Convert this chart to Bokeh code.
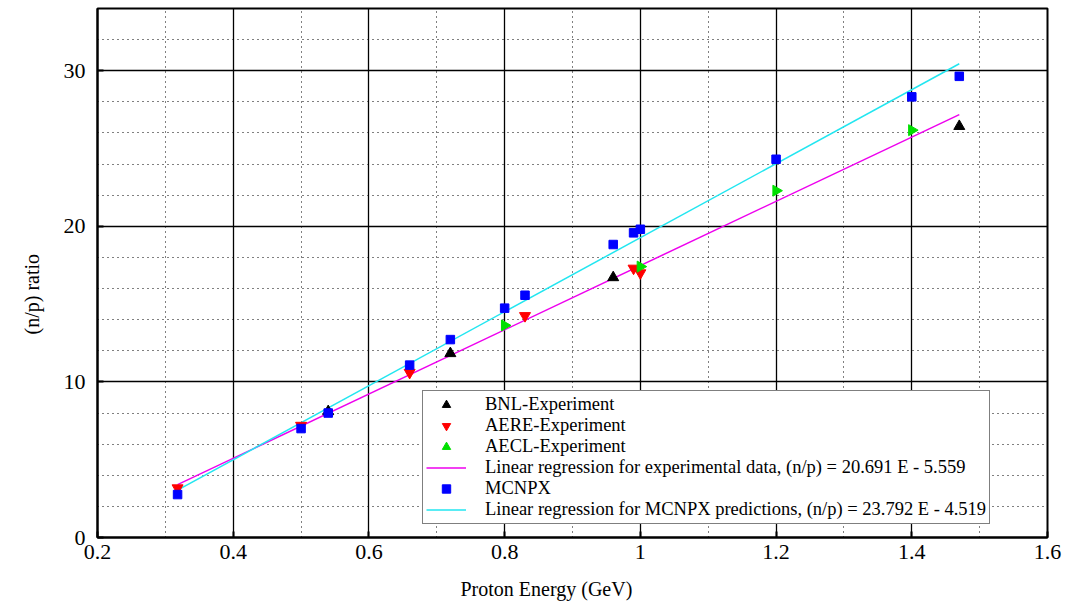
import numpy as np
from bokeh.plotting import figure
from bokeh.models import (FixedTicker, Legend, LegendItem, Range1d, ColumnDataSource, Title)
from bokeh.embed import file_html
from bokeh.resources import INLINE

# ---- data ----
bnl_E = [0.54, 0.72, 0.96, 1.47]
bnl_ratio = [8.1, 11.83, 16.71, 26.43]

aere_E = [0.318, 0.50, 0.66, 0.83, 0.99, 1.00]
aere_ratio = [3.18, 7.2, 10.6, 14.25, 17.3, 17.0]

aecl_E = [0.80, 1.00, 1.20, 1.40]
aecl_ratio = [13.63, 17.41, 22.29, 26.18]

mcnpx_E = [0.318, 0.50, 0.54, 0.66, 0.72, 0.80, 0.83, 0.96, 0.99, 1.00, 1.20, 1.40, 1.47]
mcnpx_ratio = [2.76, 7.0, 8.0, 11.08, 12.72, 14.74, 15.57, 18.83, 19.58, 19.81, 24.31, 28.32, 29.64]

fit_E = [0.318, 1.47]
fit_exp = [3.40, 27.18]
fit_mcnpx = [3.05, 30.45]

x_major = [0.2, 0.4, 0.6, 0.8, 1.0, 1.2, 1.4, 1.6]
x_minor = [0.3, 0.5, 0.7, 0.9, 1.1, 1.3, 1.5]
x_labels = {0.2: "0.2", 0.4: "0.4", 0.6: "0.6", 0.8: "0.8", 1.0: "1",
            1.2: "1.2", 1.4: "1.4", 1.6: "1.6"}
y_major = [0, 10, 20, 30]
y_minor = [2, 4, 6, 8, 12, 14, 16, 18, 22, 24, 26, 28, 32]

FONT = "Liberation Serif"

p = figure(width=1069, height=614, output_backend="svg", toolbar_location=None,
           x_range=Range1d(0.2, 1.6), y_range=Range1d(0, 34),
           min_border_left=97, min_border_right=22, min_border_top=8,
           min_border_bottom=73)
p.background_fill_color = "white"
p.border_fill_color = "white"
p.outline_line_color = "black"
p.outline_line_width = 2

p.xaxis.ticker = FixedTicker(ticks=x_major, minor_ticks=x_minor)
p.yaxis.ticker = FixedTicker(ticks=y_major, minor_ticks=y_minor)
p.xaxis.major_label_overrides = x_labels

for ax in (p.xaxis[0], p.yaxis[0]):
    ax.axis_line_color = "black"
    ax.axis_line_width = 2
    ax.major_tick_in = 6
    ax.major_tick_out = 0
    ax.major_tick_line_color = "black"
    ax.major_tick_line_width = 2
    ax.minor_tick_line_color = None
    ax.major_label_text_font = FONT
    ax.major_label_text_font_size = "22px"
    ax.major_label_text_color = "black"

p.xaxis.major_label_standoff = 3
p.yaxis.major_label_standoff = 8

# axis titles, placed off the frame centre as in the original
p.add_layout(Title(text="Proton Energy (GeV)", align="left", offset=363,
                   text_font=FONT, text_font_size="20px", text_font_style="normal",
                   text_color="black", standoff=29), "below")
p.add_layout(Title(text="(n/p) ratio", align="left", offset=203,
                   text_font=FONT, text_font_size="20px", text_font_style="normal",
                   text_color="black", standoff=35), "left")

for g in (p.xgrid[0], p.ygrid[0]):
    g.grid_line_color = "black"
    g.grid_line_width = 1.3
    g.minor_grid_line_color = "black"
    g.minor_grid_line_width = 1
    g.minor_grid_line_dash = "1 4"

r_fit_exp = p.line(fit_E, fit_exp, line_color="#ee00ee", line_width=1.5)
r_fit_mc = p.line(fit_E, fit_mcnpx, line_color="#22e6f0", line_width=1.5)

r_bnl = p.scatter(bnl_E, bnl_ratio, marker="triangle", size=11,
                  fill_color="black", line_color="black")
r_aere = p.scatter(aere_E, aere_ratio, marker="inverted_triangle", size=11,
                   fill_color="#ff0000", line_color="#ff0000")
aecl_src = ColumnDataSource(dict(x=aecl_E, y=aecl_ratio,
                                 ang=[-np.pi / 2] * len(aecl_E)))
r_aecl = p.scatter("x", "y", source=aecl_src, marker="triangle", angle="ang",
                   angle_units="rad", size=11,
                   fill_color="#00e000", line_color="#00e000")
r_mc = p.scatter(mcnpx_E, mcnpx_ratio, marker="square", size=8.5,
                 fill_color="#0000ff", line_color="#0000ff")

legend = Legend(items=[
    LegendItem(label="BNL-Experiment", renderers=[r_bnl]),
    LegendItem(label="AERE-Experiment", renderers=[r_aere]),
    LegendItem(label="AECL-Experiment", renderers=[r_aecl]),
    LegendItem(label="Linear regression for experimental data, (n/p) = 20.691 E - 5.559",
               renderers=[r_fit_exp]),
    LegendItem(label="MCNPX", renderers=[r_mc]),
    LegendItem(label="Linear regression for MCNPX predictions, (n/p) = 23.792 E - 4.519",
               renderers=[r_fit_mc]),
], location=(325, 13))
legend.label_text_font = FONT
legend.label_text_font_size = "18.5px"
legend.label_text_color = "black"
legend.label_height = 21
legend.glyph_height = 21
legend.glyph_width = 40
legend.spacing = 0
legend.padding = 3
legend.margin = 0
legend.label_standoff = 19
legend.border_line_color = "black"
legend.border_line_width = 1.5
legend.background_fill_color = "white"
legend.background_fill_alpha = 1.0
p.add_layout(legend, "center")

open("out.html", "w").write(file_html(p, INLINE))
